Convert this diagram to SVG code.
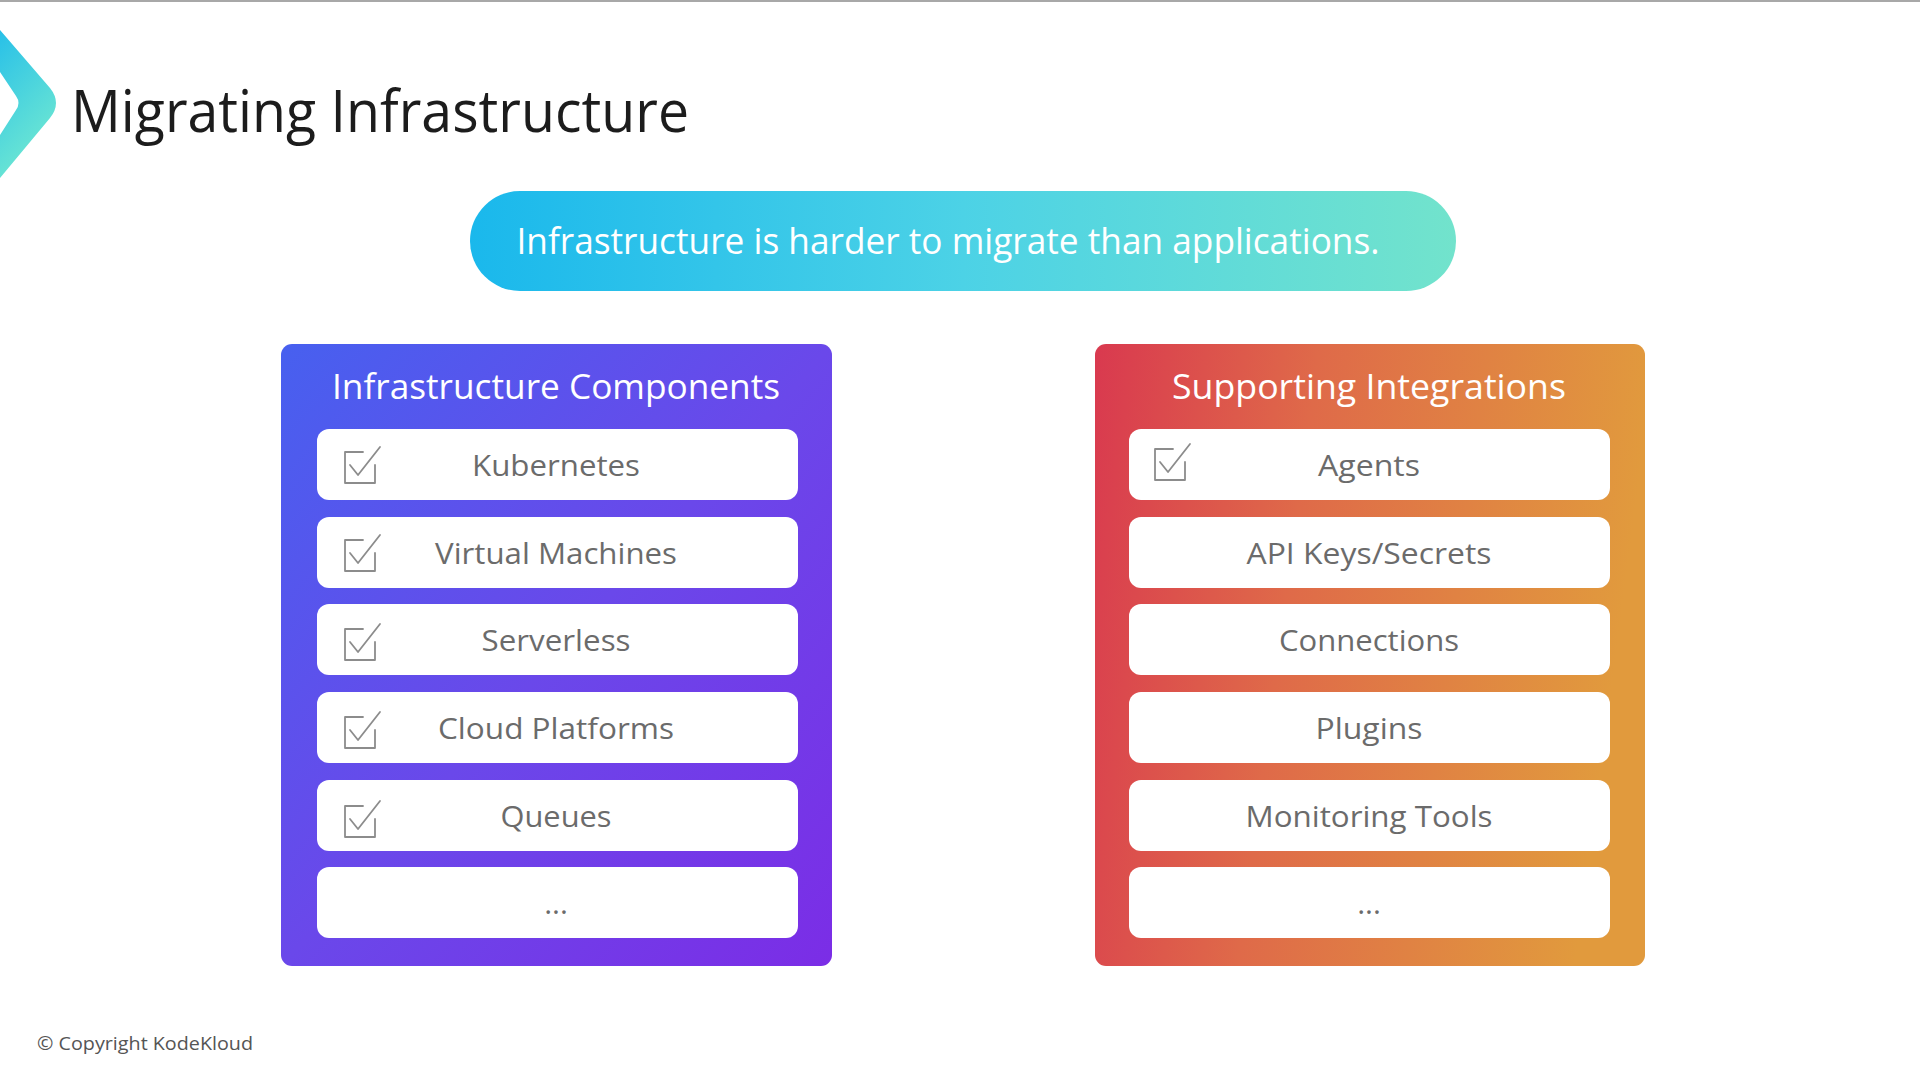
<svg xmlns="http://www.w3.org/2000/svg" width="1920" height="1080" viewBox="0 0 1920 1080">
  <defs>
    <linearGradient id="gChev" x1="0" y1="0" x2="0.4" y2="1">
      <stop offset="0" stop-color="#28c0e8"/>
      <stop offset="1" stop-color="#6fe8d2"/>
    </linearGradient>
    <linearGradient id="gBanner" x1="0" y1="0" x2="1" y2="0">
      <stop offset="0" stop-color="#1ab8ec"/>
      <stop offset="0.5" stop-color="#4cd2e6"/>
      <stop offset="1" stop-color="#72e3cc"/>
    </linearGradient>
    <linearGradient id="gLeft" x1="0" y1="0" x2="1" y2="1">
      <stop offset="0" stop-color="#4760ef"/>
      <stop offset="0.5" stop-color="#6a48ea"/>
      <stop offset="1" stop-color="#7b2de6"/>
    </linearGradient>
    <linearGradient id="gRight" x1="0" y1="0" x2="1" y2="0.15">
      <stop offset="0" stop-color="#d9394f"/>
      <stop offset="0.4" stop-color="#df6a49"/>
      <stop offset="1" stop-color="#e19a3d"/>
    </linearGradient>
    <g id="chk" fill="none" stroke="#8c8c8c" stroke-width="1.8" stroke-linecap="round" stroke-linejoin="round">
      <path d="M18 0 H0 V31 H30 V13"/>
      <path d="M5 13 L13 23 L35 -5"/>
    </g>
    <style>
      .card { fill: #ffffff; }
      .ct { font-family: "Open Sans", "Noto Sans", sans-serif; font-size: 30px; fill: #6b6b6b; text-anchor: middle; }
      .pt { font-family: "Open Sans", "Noto Sans", sans-serif; font-size: 35px; fill: #ffffff; text-anchor: middle; font-weight: 500; }
    </style>
  </defs>
  <rect width="1920" height="1080" fill="#ffffff"/>
  <rect x="0" y="0" width="1920" height="2" fill="#a8a8a8"/>

  <g id="logo">
    <path d="M0 30 L50 88 Q62 103 50 118 L0 178 L0 135 L16 110 Q21 103 16 96 L0 72 Z" fill="url(#gChev)"/>
  </g>

  <g id="title">
    <text x="71" y="132" font-family="Open Sans, Noto Sans, sans-serif" font-size="58" font-weight="500" fill="#1c1c1c" textLength="618" lengthAdjust="spacingAndGlyphs">Migrating Infrastructure</text>
  </g>

  <g id="banner">
    <rect x="470" y="191" width="986" height="100" rx="50" fill="url(#gBanner)"/>
    <text x="948" y="254" font-family="Open Sans, Noto Sans, sans-serif" font-size="36" font-weight="500" fill="#ffffff" text-anchor="middle" textLength="863" lengthAdjust="spacingAndGlyphs">Infrastructure is harder to migrate than applications.</text>
  </g>

  <g id="infra-components">
    <rect x="281" y="344" width="551" height="622" rx="11" fill="url(#gLeft)"/>
    <text class="pt" x="556" y="399" textLength="448" lengthAdjust="spacingAndGlyphs">Infrastructure Components</text>
    <g id="kubernetes">
      <rect class="card" x="317" y="429" width="481" height="71" rx="12"/>
      <use href="#chk" x="345" y="452"/>
      <text class="ct" x="556" y="476" textLength="168" lengthAdjust="spacingAndGlyphs">Kubernetes</text>
    </g>
    <g id="virtual-machines">
      <rect class="card" x="317" y="517" width="481" height="71" rx="12"/>
      <use href="#chk" x="345" y="540"/>
      <text class="ct" x="556" y="564" textLength="242" lengthAdjust="spacingAndGlyphs">Virtual Machines</text>
    </g>
    <g id="serverless">
      <rect class="card" x="317" y="604" width="481" height="71" rx="12"/>
      <use href="#chk" x="345" y="629"/>
      <text class="ct" x="556" y="651" textLength="149" lengthAdjust="spacingAndGlyphs">Serverless</text>
    </g>
    <g id="cloud-platforms">
      <rect class="card" x="317" y="692" width="481" height="71" rx="12"/>
      <use href="#chk" x="345" y="717"/>
      <text class="ct" x="556" y="739" textLength="236" lengthAdjust="spacingAndGlyphs">Cloud Platforms</text>
    </g>
    <g id="queues">
      <rect class="card" x="317" y="780" width="481" height="71" rx="12"/>
      <use href="#chk" x="345" y="806"/>
      <text class="ct" x="556" y="827" textLength="111" lengthAdjust="spacingAndGlyphs">Queues</text>
    </g>
    <g id="infra-more">
      <rect class="card" x="317" y="867" width="481" height="71" rx="12"/>
      <text class="ct" x="556" y="914">...</text>
    </g>
  </g>

  <g id="supporting-integrations">
    <rect x="1095" y="344" width="550" height="622" rx="11" fill="url(#gRight)"/>
    <text class="pt" x="1369" y="399" textLength="394" lengthAdjust="spacingAndGlyphs">Supporting Integrations</text>
    <g id="agents">
      <rect class="card" x="1129" y="429" width="481" height="71" rx="12"/>
      <use href="#chk" x="1155" y="449"/>
      <text class="ct" x="1369" y="476" textLength="102" lengthAdjust="spacingAndGlyphs">Agents</text>
    </g>
    <g id="api-keys">
      <rect class="card" x="1129" y="517" width="481" height="71" rx="12"/>
      <text class="ct" x="1369" y="564" textLength="245" lengthAdjust="spacingAndGlyphs">API Keys/Secrets</text>
    </g>
    <g id="connections">
      <rect class="card" x="1129" y="604" width="481" height="71" rx="12"/>
      <text class="ct" x="1369" y="651" textLength="180" lengthAdjust="spacingAndGlyphs">Connections</text>
    </g>
    <g id="plugins">
      <rect class="card" x="1129" y="692" width="481" height="71" rx="12"/>
      <text class="ct" x="1369" y="739" textLength="107" lengthAdjust="spacingAndGlyphs">Plugins</text>
    </g>
    <g id="monitoring-tools">
      <rect class="card" x="1129" y="780" width="481" height="71" rx="12"/>
      <text class="ct" x="1369" y="827" textLength="247" lengthAdjust="spacingAndGlyphs">Monitoring Tools</text>
    </g>
    <g id="integrations-more">
      <rect class="card" x="1129" y="867" width="481" height="71" rx="12"/>
      <text class="ct" x="1369" y="914">...</text>
    </g>
  </g>

  <g id="connectors"></g>

  <g id="footer">
    <text x="37" y="1050" font-family="Open Sans, Noto Sans, sans-serif" font-size="19" fill="#555555" textLength="216" lengthAdjust="spacingAndGlyphs">© Copyright KodeKloud</text>
  </g>
</svg>
